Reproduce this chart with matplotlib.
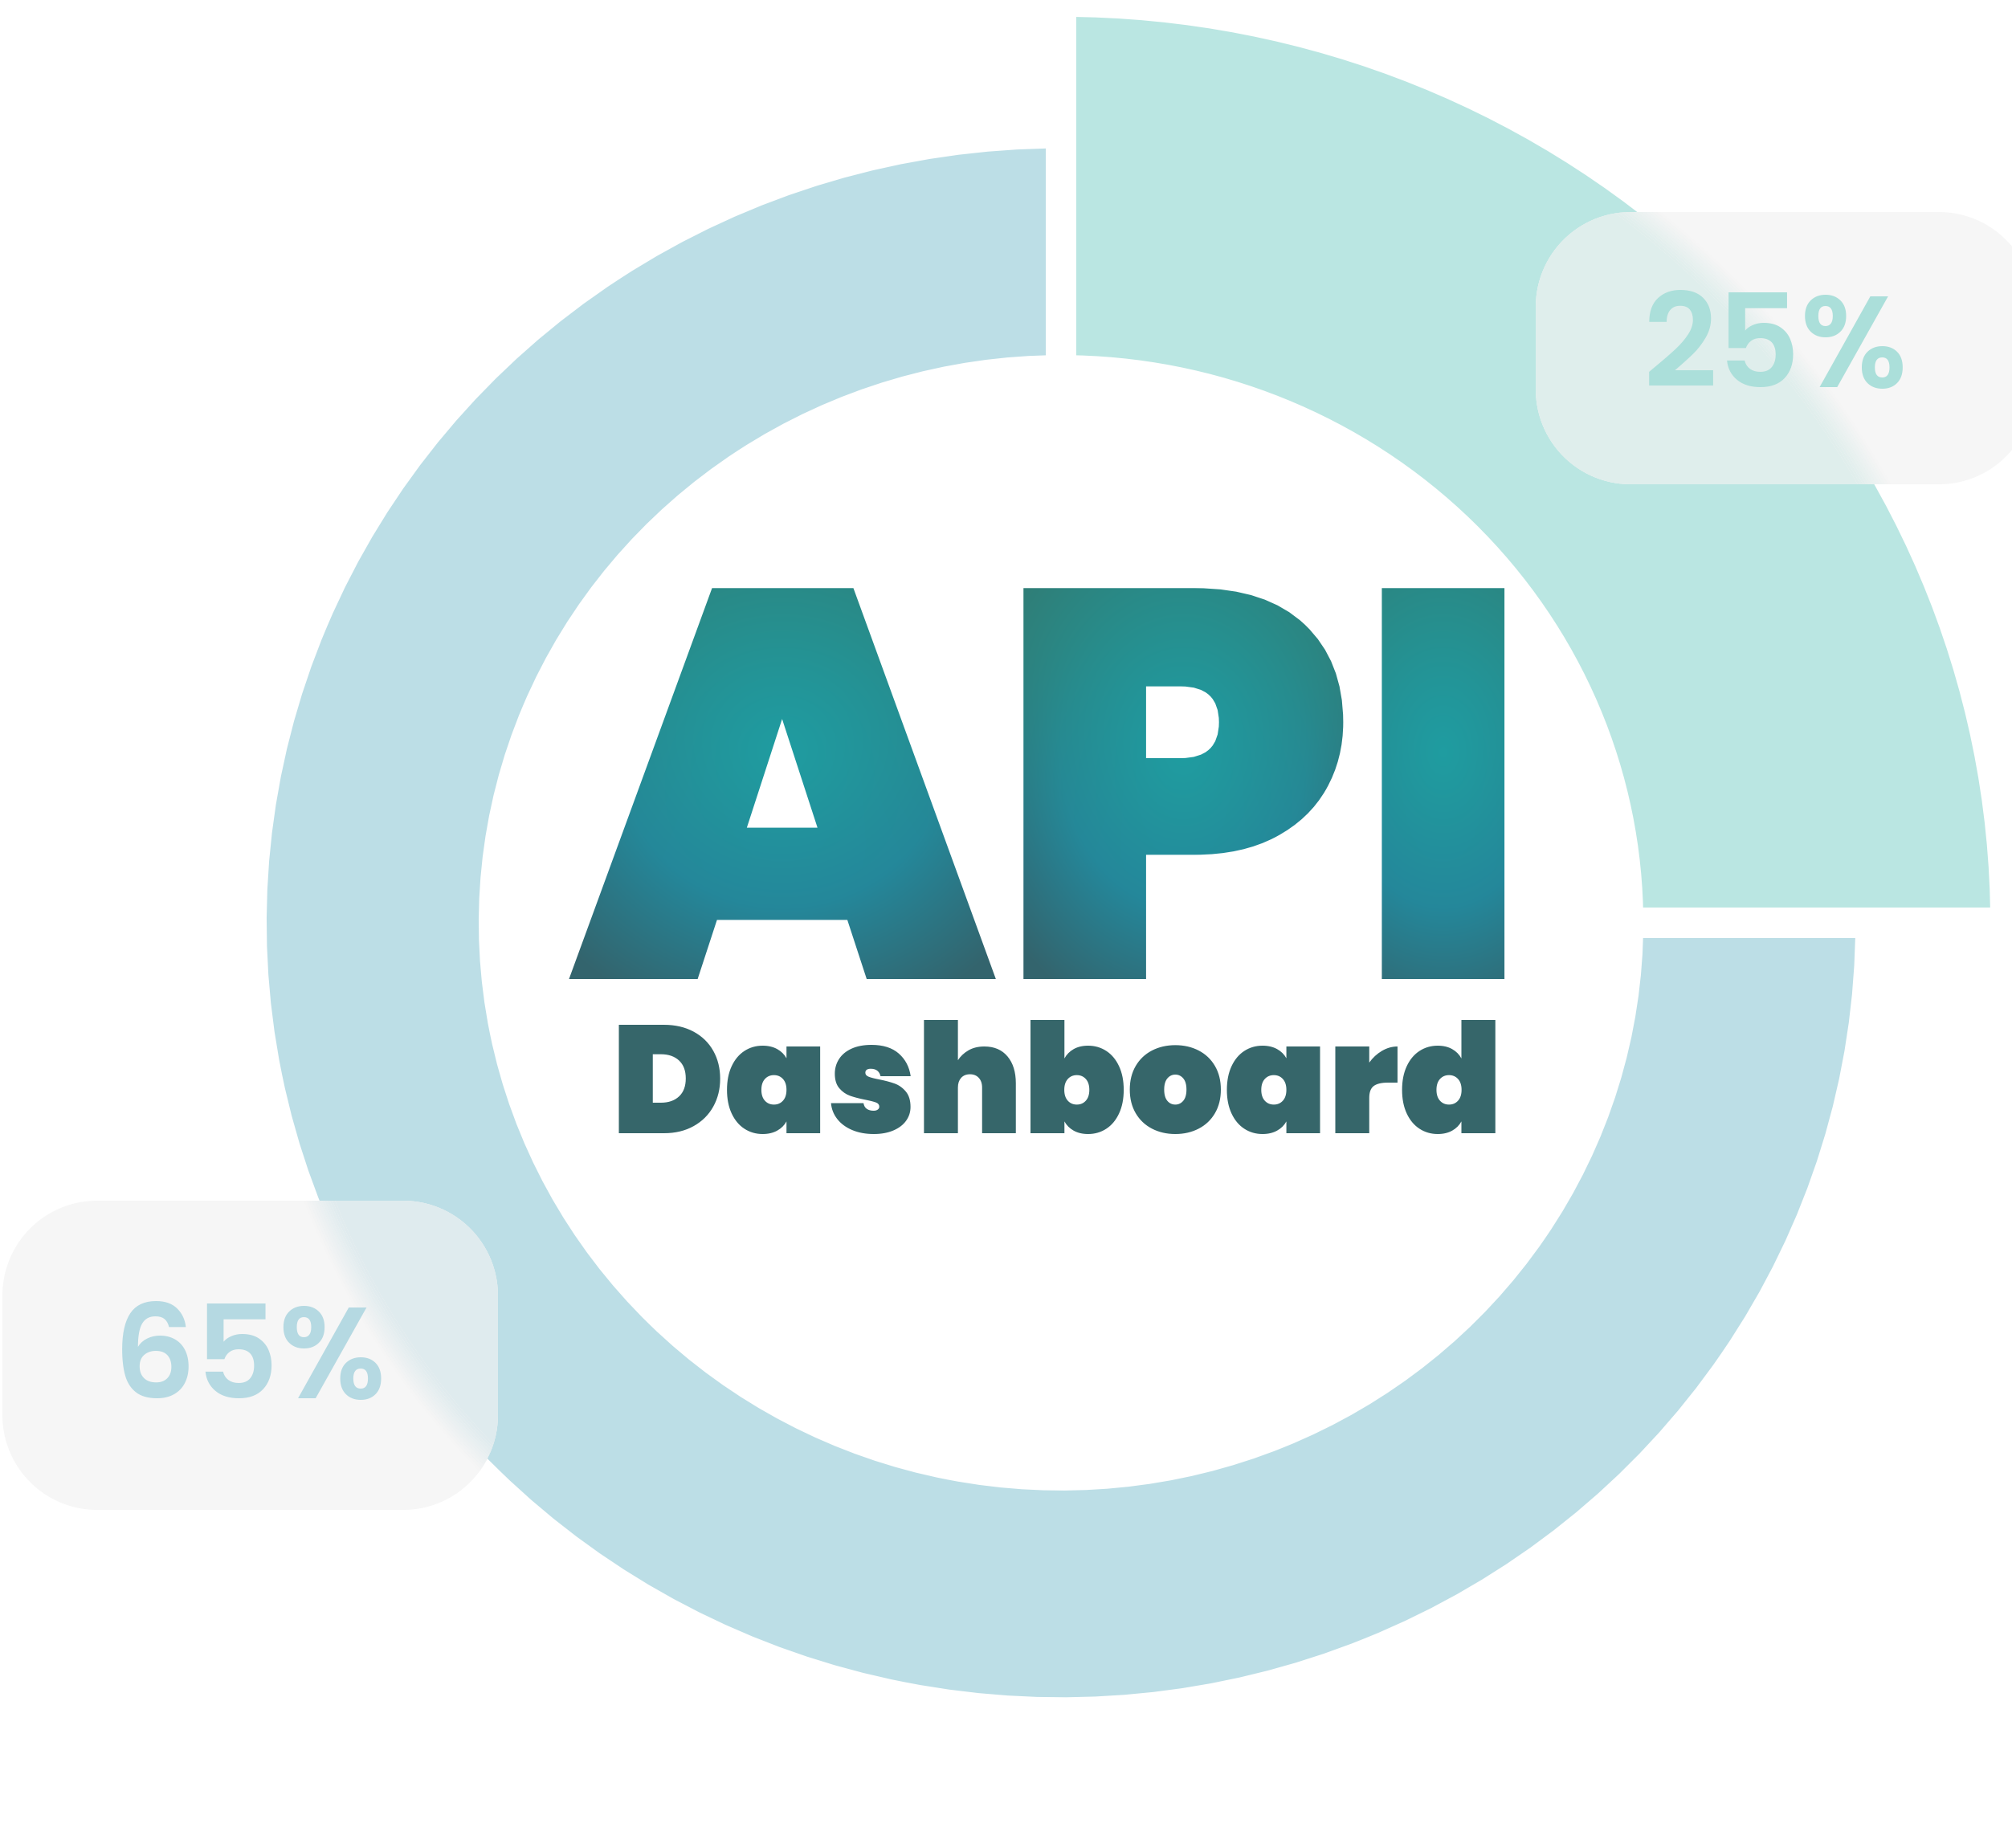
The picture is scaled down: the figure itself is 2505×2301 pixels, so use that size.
import numpy as np
import matplotlib
matplotlib.use("Agg")
import matplotlib.pyplot as plt
from matplotlib.patches import Wedge, Polygon
from matplotlib.patheffects import AbstractPathEffect
from matplotlib.transforms import Affine2D, TransformedPath
from matplotlib.colors import to_rgb

# Données du graphique
slice_values = [25, 75]
slice_colors = ['#BAE6E2', '#BCDEE6']
glass_tints = ['#DFEEEC', '#DFEBEE']
label_texts = ['25%', '65%']
label_colors = ['#ABDFDA', '#B5D9E2']
title_text = 'API'
subtitle_text = 'Dashboard'

W, H = 2505, 2301
cx, cy = 1321, H - 1149
outer_radii = [1157, 989]
inner_radius = 725
y_squash = 0.975
gap_px = 38
heavy = ['Poppins', 'Inter', 'DejaVu Sans']


class LetterGlow(AbstractPathEffect):
    """Remplit chaque lettre avec un dégradé radial (clair au centre, foncé aux bords)."""

    def __init__(self, inner, top_edge, low_mid, low_edge):
        super().__init__()
        self.inner = np.array(to_rgb(inner))
        self.top_edge = np.array(to_rgb(top_edge))
        self.low_mid = np.array(to_rgb(low_mid))
        self.low_edge = np.array(to_rgb(low_edge))

    def draw_path(self, renderer, gc, tpath, affine, rgbFace=None):
        path = affine.transform_path(tpath)
        polys = path.to_polygons(closed_only=True)
        boxes = [(p[:, 0].min(), p[:, 1].min(), p[:, 0].max(), p[:, 1].max()) for p in polys]
        outer = []
        for i, b in enumerate(boxes):
            inside = any(j != i and c[0] <= b[0] and c[1] <= b[1] and c[2] >= b[2] and c[3] >= b[3]
                         for j, c in enumerate(boxes))
            if not inside:
                outer.append(b)
        ext = path.get_extents()
        x0, y0 = int(np.floor(ext.x0)), int(np.floor(ext.y0))
        w = int(np.ceil(ext.x1)) - x0 + 2
        h = int(np.ceil(ext.y1)) - y0 + 2
        xs = x0 + np.arange(w) + 0.5
        ys = y0 + np.arange(h) + 0.5
        X, Y = np.meshgrid(xs, ys)
        rgb = np.ones((h, w, 3)) * self.low_edge
        for bx0, by0, bx1, by1 in outer:
            bw, bh = bx1 - bx0, by1 - by0
            lx, ly = (bx0 + bx1) / 2, by1 - 0.42 * bh
            rx, ry = max(0.7 * bw, 0.5 * bh), 0.72 * bh
            m = (X >= bx0 - 2) & (X <= bx1 + 2)
            t = np.clip(np.hypot((X - lx) / rx, (Y - ly) / ry), 0, 1)[..., None]
            top = self.inner + (self.top_edge - self.inner) * t ** 1.2
            t2 = np.clip(t * 1.8, 0, 1)
            t3 = np.clip((t - 0.55) / 0.45, 0, 1)
            low = self.inner + (self.low_mid - self.inner) * t2
            low = low + (self.low_edge - low) * t3
            v = np.clip((ly - Y) / (0.35 * bh) * 0.5 + 0.5, 0, 1)[..., None]
            v = v * v * (3 - 2 * v)
            col = top * (1 - v) + low * v
            rgb[m] = col[m]
        img = np.empty((h, w, 4), dtype=np.uint8)
        img[..., :3] = (rgb * 255).round().astype(np.uint8)
        img[..., 3] = 255
        gc0 = renderer.new_gc()
        gc0.copy_properties(gc)
        gc0.set_clip_path(TransformedPath(path, Affine2D()))
        renderer.draw_image(gc0, x0, y0, img)
        gc0.restore()


def rounded_box(x, y, w, h, r, n=30):
    pts = []
    for ccx, ccy, a0 in [(x + w - r, y + h - r, 0), (x + r, y + h - r, 90),
                         (x + r, y + r, 180), (x + w - r, y + r, 270)]:
        t = np.radians(np.linspace(a0, a0 + 90, n))
        pts += list(zip(ccx + r * np.cos(t), ccy + r * np.sin(t)))
    return Polygon(pts, closed=True)


fig = plt.figure(figsize=(W / 100, H / 100), dpi=100)
ax = fig.add_axes([0, 0, 1, 1])
ax.set_xlim(0, W)
ax.set_ylim(0, H)
ax.axis('off')

# Anneau (légèrement aplati verticalement)
ring_tf = Affine2D().scale(1, y_squash).translate(cx, cy) + ax.transData
start = 90
cuts, spans = [], []
for value, color, r_out in zip(slice_values, slice_colors, outer_radii):
    sweep = value / sum(slice_values) * 360
    ax.add_patch(Wedge((0, 0), r_out, start - sweep, start, width=r_out - inner_radius,
                       facecolor=color, edgecolor='none', transform=ring_tf, zorder=1))
    cuts.append(start)
    spans.append((start - sweep, start))
    start -= sweep

for ang in cuts:
    a = np.radians(ang)
    ax.plot([0, 1400 * np.cos(a)], [0, 1400 * np.sin(a)], color='white',
            lw=gap_px * 72 / 100, solid_capstyle='butt', transform=ring_tf, zorder=2)

# Cartouches "verre dépoli" des pourcentages
boxes = [(1912, H - 603, 620, 339), (3, H - 1880, 617, 385)]
baselines = [(2211, H - 482), (311, H - 1741)]
blur = 18
n_strips = 12
for k, ((bx, by, bw, bh), (tx, ty)) in enumerate(zip(boxes, baselines)):
    box = rounded_box(bx, by, bw, bh, 118)
    box.set(facecolor='#F6F6F6', edgecolor='none', zorder=3)
    ax.add_patch(box)
    th1, th2 = spans[k]
    r_out = outer_radii[k]
    core = Wedge((0, 0), r_out - blur, th1, th2, width=r_out - blur - inner_radius,
                 facecolor=glass_tints[k], edgecolor='none', transform=ring_tf, zorder=3.1)
    ax.add_patch(core)
    core.set_clip_path(box)
    dr = 2 * blur / n_strips
    for s in range(n_strips):
        r1 = r_out - blur + (s + 1) * dr
        strip = Wedge((0, 0), r1, th1, th2, width=dr, facecolor=glass_tints[k], edgecolor='none',
                      alpha=1 - (s + 0.5) / n_strips, transform=ring_tf, zorder=3.1)
        ax.add_patch(strip)
        strip.set_clip_path(box)
    ax.text(tx, ty, label_texts[k], ha='center', va='baseline', color=label_colors[k], fontsize=116,
            fontfamily=heavy, fontweight=600, zorder=4)

# Titre central
ax.text(1308, H - 1219, title_text, ha='center', va='baseline', fontsize=495,
        fontfamily=heavy, fontweight=900, color='#23888F', zorder=5,
        path_effects=[LetterGlow('#1F9CA0', '#317A72', '#24879A', '#33646D')])
ax.text(1316, H - 1411, subtitle_text, ha='center', va='baseline', fontsize=137,
        fontfamily=heavy, fontweight=900, color='#36666A', zorder=5)

fig.savefig('out.png', dpi=100, facecolor='white')
